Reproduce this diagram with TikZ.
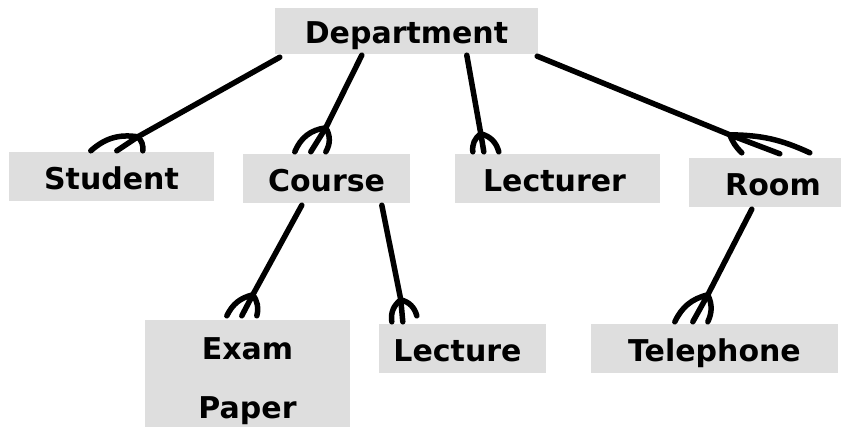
\documentclass[tikz,border=0pt]{standalone}
\usepackage{fontspec}
\setmainfont{DejaVu Sans}
\usetikzlibrary{calc}
\definecolor{boxgray}{RGB}{222,222,222}

% one-to-many link drawn with a hand-made crow's foot:
% [bend of the outer prongs] start, junction, left end, middle end, right end
\newcommand\crowlink[6][30]{%
  \draw[rel] #2 -- #3 -- #5;
  \draw[rel] #3 to[bend right=#1] #4;
  \draw[rel] #3 to[bend left=#1] #6;
}

\tikzset{
  entity/.style={fill=boxgray, inner sep=0pt, text height=26pt, text depth=0pt,
    font=\bfseries\fontsize{30}{36}\selectfont},
  rel/.style={line width=5.5pt, line cap=round, line join=round},
}

\begin{document}
\begin{tikzpicture}[x=1pt,y=1pt]
\useasboundingbox (0,0) rectangle (846,-428);

\node[entity, minimum width=263pt, minimum height=46pt] (dept) at (406.5,-31) {Department};
\node[entity, minimum width=205pt, minimum height=49pt] (student) at (111.5,-176.5) {Student};
\node[entity, minimum width=167pt, minimum height=49pt] (course) at (326.5,-178.5) {Course};
\node[entity, minimum width=205pt, minimum height=49pt] (lecturer) at (557.5,-178.5) {Lecturer\hspace*{6pt}};
\node[entity, minimum width=152pt, minimum height=49pt] (room) at (765,-182.5) {\hspace*{16pt}Room};
\node[entity, minimum width=205pt, minimum height=107pt, align=center,
      text height=89pt, text depth=0pt,
      font=\bfseries\fontsize{30}{59}\selectfont] (exam) at (247.5,-373.5) {Exam\\Paper};
\node[entity, minimum width=167pt, minimum height=49pt] (lecture) at (462.5,-348.5) {Lecture\hspace*{10pt}};
\node[entity, minimum width=247pt, minimum height=49pt] (phone) at (714.5,-348.5) {Telephone};

% Department has many students, courses, lecturers and rooms
\crowlink[25]{($(dept.south west)+(5,-3)$)}{($(student.north west)+(129,15)$)}
  {($(student.north west)+(82,1)$)}{($(student.north west)+(108,1)$)}{($(student.north west)+(134,1)$)}
\crowlink{($(dept.south west)+(87,-1)$)}{($(course.north west)+(83,26)$)}
  {($(course.north west)+(52,2)$)}{($(course.north west)+(68,2)$)}{($(course.north west)+(83,2)$)}
\crowlink{($(dept.south west)+(192,-1)$)}{($(lecturer.north west)+(26,20)$)}
  {($(lecturer.north west)+(18,2)$)}{($(lecturer.north west)+(29,2)$)}{($(lecturer.north west)+(44,2)$)}
\crowlink[12]{($(dept.south east)+(-1,-2)$)}{($(room.north west)+(41,23)$)}
  {($(room.north west)+(53,5)$)}{($(room.north west)+(91,4)$)}{($(room.north west)+(121,5)$)}

% Course has many exam papers and lectures; Room has many telephones
\crowlink[25]{($(course.south west)+(59,-2)$)}{($(exam.north west)+(108,25)$)}
  {($(exam.north west)+(82,4)$)}{($(exam.north west)+(97,4)$)}{($(exam.north west)+(112,4)$)}
\crowlink{($(course.south west)+(139,-2)$)}{($(lecture.north west)+(22,24)$)}
  {($(lecture.north west)+(13,2)$)}{($(lecture.north west)+(24,2)$)}{($(lecture.north west)+(38,8)$)}
\crowlink[25]{($(room.south west)+(63,-2)$)}{($(phone.north west)+(117,29)$)}
  {($(phone.north west)+(84,2)$)}{($(phone.north west)+(102,2)$)}{($(phone.north west)+(117,2)$)}
\end{tikzpicture}
\end{document}
